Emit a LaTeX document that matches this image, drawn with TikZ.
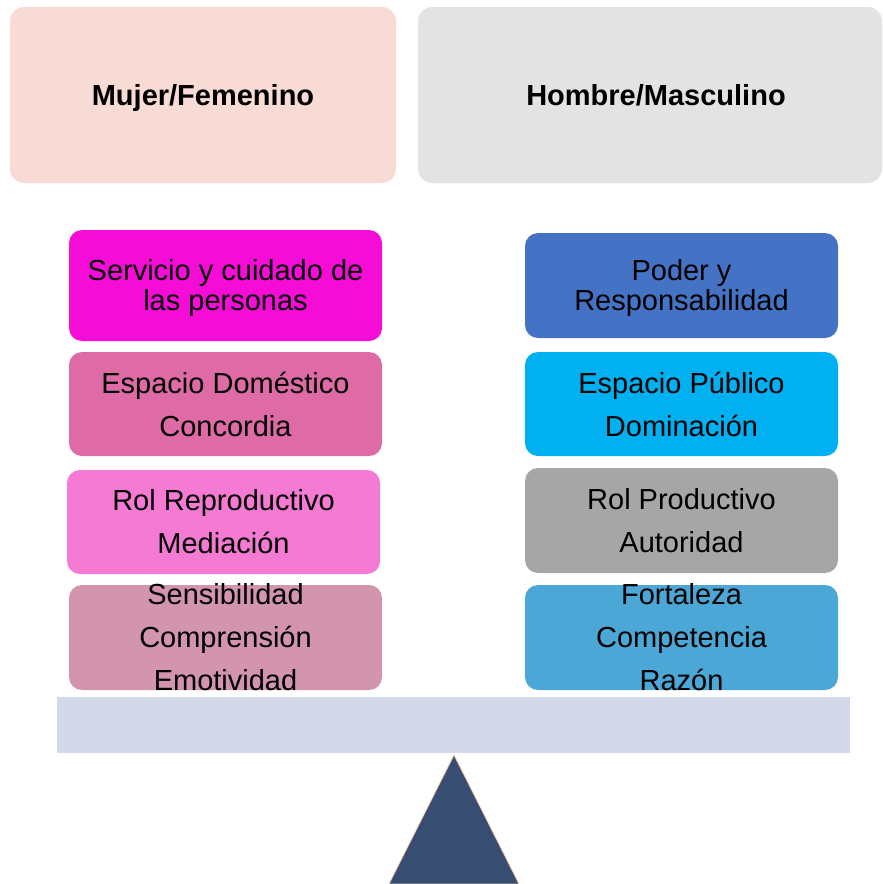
\documentclass[tikz,border=0pt]{standalone}
\usepackage{fontspec}
\setmainfont{Liberation Sans}
\definecolor{mujerc}{HTML}{F8DBD4}
\definecolor{hombrec}{HTML}{E3E3E3}
\definecolor{la}{HTML}{F50CD7}
\definecolor{lb}{HTML}{DF6BA6}
\definecolor{lc}{HTML}{F47AD3}
\definecolor{ld}{HTML}{D395AE}
\definecolor{ra}{HTML}{4472C4}
\definecolor{rb}{HTML}{00B0F0}
\definecolor{rc}{HTML}{A6A6A6}
\definecolor{rd}{HTML}{4BA7D5}
\definecolor{barc}{HTML}{D3D9EB}
\definecolor{tric}{HTML}{384D72}
\definecolor{tril}{HTML}{F8CBAD}
\tikzset{
  x=1pt,y=1pt,
  hdrbox/.style={rectangle, rounded corners=14pt, draw=none, inner sep=0pt},
  itembox/.style={rectangle, rounded corners=13pt, draw=none, inner sep=0pt, minimum width=313pt},
  hdrtext/.style={font=\fontsize{29}{30}\selectfont\bfseries, inner sep=0pt, anchor=base},
  itemtext/.style={font=\fontsize{29}{43}\selectfont, align=center, inner sep=0pt},
  tighttext/.style={font=\fontsize{29}{30}\selectfont, align=center, inner sep=0pt}
}
\begin{document}
\begin{tikzpicture}
\useasboundingbox (0,0) rectangle (883,-884);
% headers
\node[hdrbox, fill=mujerc, minimum width=386pt, minimum height=176pt] (hm) at (203,-95) {};
\node[hdrbox, fill=hombrec, minimum width=464pt, minimum height=176pt] (hh) at (650,-95) {};
\node[hdrtext] (thm) at ([yshift=-10.5pt]hm.center) {Mujer/Femenino};
\node[hdrtext] (thh) at ([xshift=6pt,yshift=-10.5pt]hh.center) {Hombre/Masculino};
% left column
\node[itembox, fill=la, minimum height=111pt] (l1) at (225.5,-285.5) {};
\node[itembox, fill=lb, minimum height=104pt] (l2) at (225.5,-404) {};
\node[itembox, fill=lc, minimum height=104pt] (l3) at (223.5,-522) {};
\node[itembox, fill=ld, minimum height=105pt] (l4) at (225.5,-637.5) {};
% right column
\node[itembox, fill=ra, minimum height=105pt] (r1) at (681.5,-285.5) {};
\node[itembox, fill=rb, minimum height=104pt] (r2) at (681.5,-404) {};
\node[itembox, fill=rc, minimum height=105pt] (r3) at (681.5,-520.5) {};
\node[itembox, fill=rd, minimum height=105pt] (r4) at (681.5,-637.5) {};
% texts
\node[tighttext] (tl1) at ([yshift=-2pt]l1.center) {Servicio y cuidado de\\las personas};
\node[itemtext] (tl2) at (l2.center) {Espacio Doméstico\\Concordia};
\node[itemtext] (tl3) at (l3.center) {Rol Reproductivo\\Mediación};
\node[itemtext] (tl4) at (l4.center) {Sensibilidad\\Comprensión\\Emotividad};
\node[tighttext] (tr1) at ([yshift=-2pt]r1.center) {Poder y\\Responsabilidad};
\node[itemtext] (tr2) at (r2.center) {Espacio Público\\Dominación};
\node[itemtext] (tr3) at (r3.center) {Rol Productivo\\Autoridad};
\node[itemtext] (tr4) at (r4.center) {Fortaleza\\Competencia\\Razón};
% balance bar
\node[rectangle, fill=barc, inner sep=0pt, minimum width=793pt, minimum height=56pt] (bar) at (453.5,-725) {};
% fulcrum
\coordinate (apex) at (454,-755);
\coordinate (bl) at (389,-884);
\coordinate (br) at (519,-884);
\filldraw[fill=tric, draw=tril, line width=0.8pt] (apex) -- (br) -- (bl) -- cycle;
\end{tikzpicture}
\end{document}
